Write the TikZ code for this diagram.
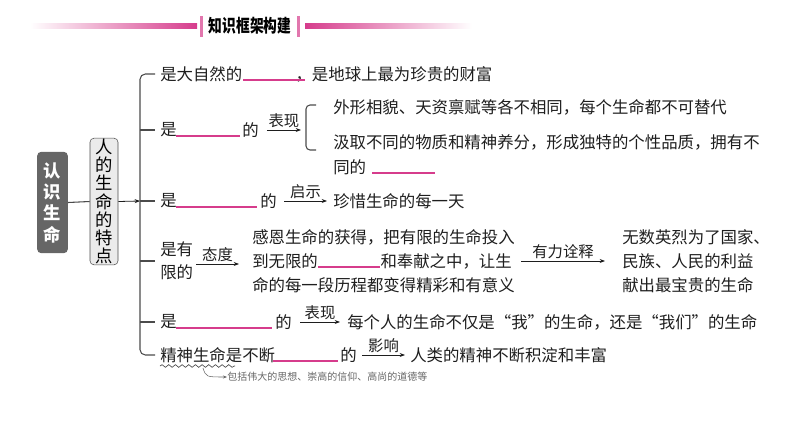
\documentclass[tikz,border=0pt]{standalone}
\usepackage{fontspec}
\setmainfont{Noto Sans CJK SC}
\usetikzlibrary{arrows.meta,decorations.pathmorphing}
\definecolor{pk}{RGB}{214,60,140}
\definecolor{tx}{RGB}{30,30,30}
\tikzset{
  t/.style={anchor=west,inner sep=0pt,font=\fontsize{12.3}{17}\selectfont,text=tx},
  lab/.style={anchor=south,inner sep=1.5pt,font=\fontsize{11.5}{13}\selectfont,text=tx},
  blank/.style={pk,line width=0.8pt},
  arr/.style={-{Stealth[length=4pt,width=3pt]},line width=0.6pt,tx},
  ln/.style={line width=0.8pt,tx!80},
}
\begin{document}
\begin{tikzpicture}[x=0.75pt,y=-0.75pt]
\useasboundingbox (0,0) rectangle (794,447);
% title
\shade[left color=white,right color=pk] (30,23.5) rectangle (197,28.5);
\shade[left color=pk,right color=white] (305,23.5) rectangle (472,28.5);
\fill[pk!70] (200,16) rectangle (203,37);
\fill[pk!70] (297,16) rectangle (300,37);
\node[font=\bfseries\fontsize{10.3}{12}\selectfont,yscale=1.3] (title) at (250,26) {知识框架构建};
% boxes
\node[fill=black!60,rounded corners=3pt,minimum width=23pt,minimum height=76pt,text=white,font=\bfseries\fontsize{13}{16}\selectfont,align=center,inner sep=0pt] (a) at (52.5,202.5) {认\\识\\生\\命};
\node[fill=black!8,draw=black!70,rounded corners=3pt,minimum width=21pt,minimum height=95pt,font=\fontsize{13}{13.6}\selectfont,align=center,inner sep=0pt] (b) at (104,201.5) {人\\的\\生\\命\\的\\特\\点};
\draw[ln] (a.east) -- (b.west);
\coordinate (br) at (140,201);
\draw[arr] (b.east) -- (br);
\draw[ln,rounded corners=4pt] (155,74) -- (140,74) -- (140,355) -- (155,355);
\foreach \y in {130,201,261,322} \draw[ln] (140,\y) -- (155,\y);
% row1
\node[t] (r1) at (160,74) {是大自然的\hspace{40pt}，是地球上最为珍贵的财富};
\draw[blank] (243,80) -- (305,80);
% row2
\node[t] (r2a) at (160,130) {是};
\draw[blank] (176,136) -- (240,136);
\node[t] (r2b) at (242,130) {的};
\coordinate (r2e) at (301,130);
\draw[arr] (r2b.east)++(8,0) -- node[lab]{表现} (r2e);
\draw[ln,rounded corners=3pt] (316,105) -- (306,105) -- (306,150) -- (316,150);
\node[t] (r2c) at (333,107) {外形相貌、天资禀赋等各不相同，每个生命都不可替代};
\node[t] (r2d) at (333,142) {汲取不同的物质和精神养分，形成独特的个性品质，拥有不};
\node[t] (r2f) at (333,167) {同的};
\draw[blank] (372,173) -- (435,173);
% row3
\node[t] (r3a) at (160,201) {是};
\draw[blank] (176,207) -- (257,207);
\node[t] (r3b) at (260,201) {的};
\node[t] (r3c) at (333,201) {珍惜生命的每一天};
\draw[arr] (284,201) -- node[lab]{启示} (327,201);
% row4
\node[t,align=left,font=\fontsize{12.3}{17.5}\selectfont] (r4a) at (160,261) {是有\\限的};
\node[t,align=left,font=\fontsize{12.3}{18}\selectfont] (r4b) at (252,261) {感恩生命的获得，把有限的生命投入\\到无限的\hspace{47pt}和奉献之中，让生\\命的每一段历程都变得精彩和有意义};
\draw[blank] (318,267) -- (380,267);
\draw[arr] (196,264) -- node[lab]{态度} (239,264);
\node[t,align=left,font=\fontsize{12.3}{18}\selectfont] (r4c) at (622,261) {无数英烈为了国家、\\民族、人民的利益\\献出最宝贵的生命};
\draw[arr] (521,261) -- node[lab]{有力诠释} (605,261);
% row5
\node[t] (r5a) at (160,322) {是};
\draw[blank] (176,328) -- (272,328);
\node[t] (r5b) at (275,322) {的};
\node[t] (r5c) at (347,322) {每个人的生命不仅是“我”的生命，还是“我们”的生命};
\draw[arr] (300,322) -- node[lab]{表现} (340,322);
% row6
\node[t] (r6a) at (160,355) {精神生命是不断};
\draw[blank] (273,361) -- (338,361);
\node[t] (r6b) at (340,355) {的};
\node[t] (r6c) at (410,355) {人类的精神不断积淀和丰富};
\draw[arr] (362,355) -- node[lab]{影响} (405,355);
\draw[ln,line width=0.5pt,decorate,decoration={snake,amplitude=1pt,segment length=5pt}] (160,366) -- (235,366);
\node[anchor=west,inner sep=0pt,font=\fontsize{7.5}{9}\selectfont,text=black!60] (note) at (227,377) {包括伟大的思想、崇高的信仰、高尚的道德等};
\draw[-{Stealth[length=3pt]},black!60,line width=0.4pt] (203,368) .. controls (206,377) .. (note.west);
\end{tikzpicture}
\end{document}
